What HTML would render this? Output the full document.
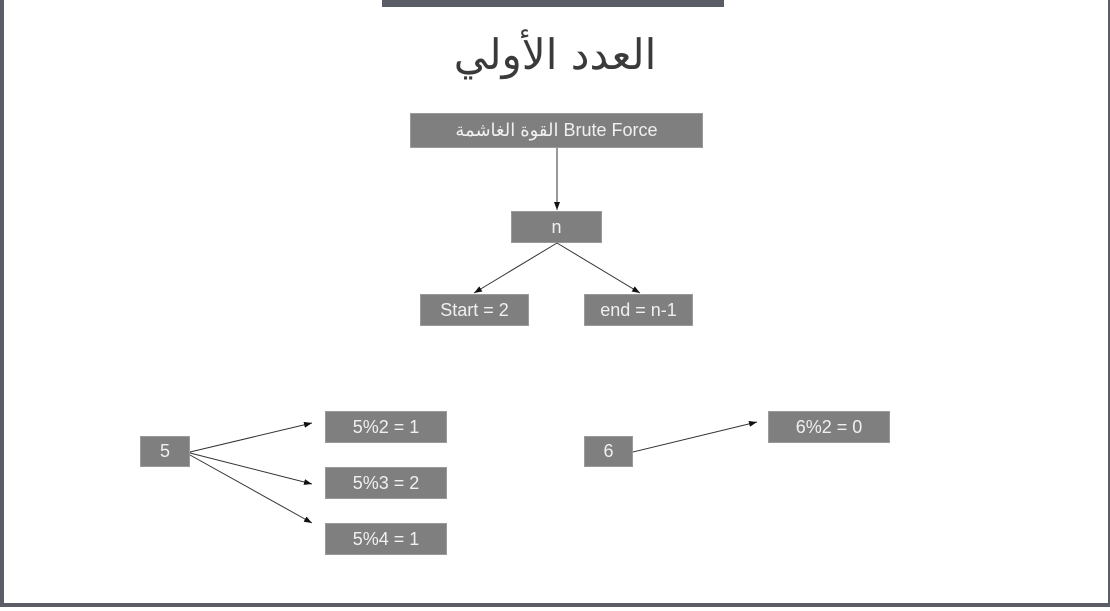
<!DOCTYPE html>
<html><head><meta charset="utf-8"><style>
body{margin:0;width:1110px;height:611px;background:#fff;position:relative;overflow:hidden;font-family:"Liberation Sans","DejaVu Sans",sans-serif}
.fr{position:absolute;left:0;top:0;width:1104px;height:603px;border-left:4px solid #5a5c66;border-right:2px solid #5a5c66;border-bottom:4px solid #5a5c66}
.tb{position:absolute;left:382px;top:0;width:342px;height:7px;background:#5a5c66}
.b{position:absolute;background:#7f7f7f;color:#f0f0f0;font-size:18px;display:flex;align-items:center;justify-content:center;border:1px solid #9a9a9a;box-sizing:border-box}
h1{position:absolute;left:0;width:1110px;top:30px;margin:0;text-align:center;font-weight:300;font-size:42px;color:#3a3a3a;font-family:"DejaVu Sans",sans-serif}
svg{position:absolute;left:0;top:0}
</style></head><body>
<div class="fr"></div><div class="tb"></div>
<h1 dir="rtl">العدد الأولي</h1>
<div class="b" style="left:410px;top:113px;width:293px;height:35px">القوة الغاشمة Brute Force</div>
<div class="b" style="left:511px;top:211px;width:91px;height:32px">n</div>
<div class="b" style="left:420px;top:294px;width:109px;height:32px">Start = 2</div>
<div class="b" style="left:584px;top:294px;width:109px;height:32px">end = n-1</div>
<div class="b" style="left:140px;top:436px;width:50px;height:31px">5</div>
<div class="b" style="left:325px;top:411px;width:122px;height:32px">5%2 = 1</div>
<div class="b" style="left:325px;top:467px;width:122px;height:32px">5%3 = 2</div>
<div class="b" style="left:325px;top:523px;width:122px;height:32px">5%4 = 1</div>
<div class="b" style="left:584px;top:436px;width:49px;height:31px">6</div>
<div class="b" style="left:768px;top:411px;width:122px;height:32px">6%2 = 0</div>
<svg width="1110" height="611"><defs><marker id="a" markerWidth="8" markerHeight="6" refX="8" refY="3" orient="auto" markerUnits="userSpaceOnUse"><path d="M0,0L8,3L0,6z" fill="#111"/></marker></defs>
<g stroke="#333" stroke-width="1" marker-end="url(#a)">
<line x1="557" y1="148" x2="557" y2="210"/>
<line x1="557" y1="243" x2="474" y2="293"/>
<line x1="557" y1="243" x2="640" y2="293"/>
<line x1="190" y1="452" x2="312" y2="423"/>
<line x1="190" y1="453" x2="312" y2="484"/>
<line x1="190" y1="455" x2="312" y2="523"/>
<line x1="633" y1="452" x2="757" y2="422"/>
</g></svg>
</body></html>
